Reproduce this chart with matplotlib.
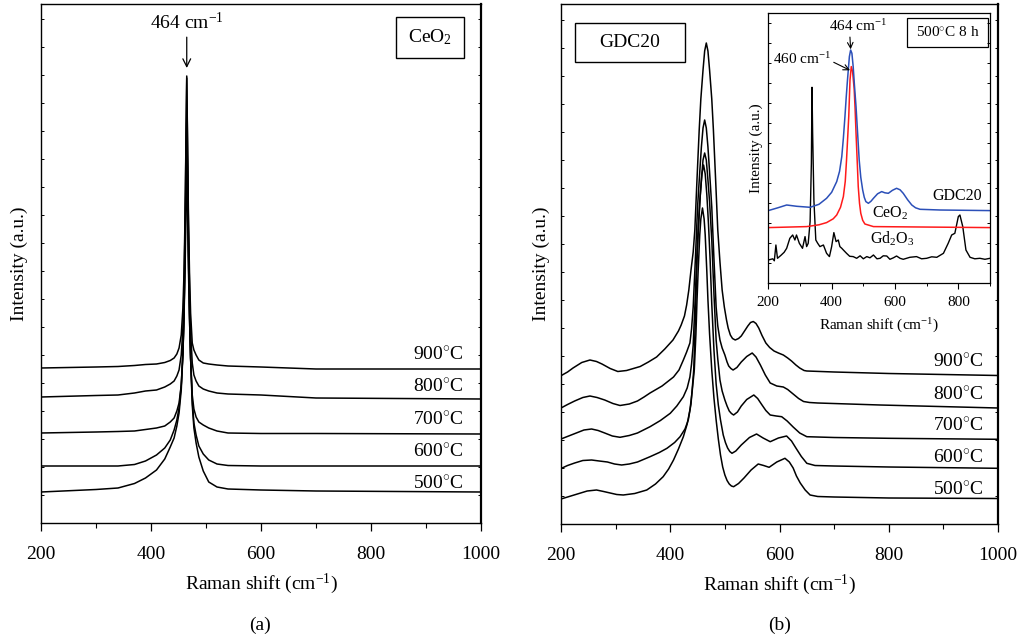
import matplotlib
matplotlib.use("Agg")
import matplotlib.pyplot as plt
from matplotlib.patches import Rectangle
from matplotlib.ticker import MultipleLocator

plt.rcParams['font.family'] = ['Liberation Serif', 'DejaVu Serif']
plt.rcParams['mathtext.fontset'] = 'custom'
plt.rcParams['mathtext.rm'] = 'Liberation Serif'
plt.rcParams['mathtext.it'] = 'Liberation Serif:italic'
plt.rcParams['mathtext.bf'] = 'Liberation Serif:bold'

# ---------------- data ----------------
temps = ["500", "600", "700", "800", "900"]

# Panel (a): CeO2 spectra (Raman shift cm^-1, intensity a.u.)
ceo2_x = [200, 300, 340, 370, 390, 410, 425, 435, 442, 447, 451, 455, 458, 460, 462, 463.5, 465, 466.5,
          468, 470, 472, 475, 478, 482, 487, 495, 505, 520, 540, 600, 700, 1000]
ceo2_900 = [155, 156, 156.5, 157.5, 158.5, 159, 160.5, 162.5, 165, 169, 175, 188, 215, 250, 310, 380, 447, 380,
            310, 250, 210, 180, 173, 168, 163, 160, 159, 158, 157, 156, 154, 154]
ceo2_800 = [126, 127.5, 128, 130, 132, 133, 136, 139, 142, 147, 153, 168, 195, 235, 300, 375, 445, 375,
            300, 235, 192, 160, 148, 142, 137, 134, 132, 130, 129, 128, 125, 124]
ceo2_700 = [90, 91, 91.5, 92, 93.5, 95, 97, 101, 105, 112, 120, 138, 170, 210, 270, 340, 405, 340,
            270, 205, 165, 128, 114, 106, 101, 98, 95, 92, 90, 89.5, 89.5, 89]
ceo2_600 = [57, 57, 57, 58.5, 62, 68, 75, 83, 93, 103, 115, 138, 170, 205, 255, 310, 358, 310,
            255, 205, 165, 123, 100, 88, 77, 69, 63, 59, 57.5, 57, 57, 57]
ceo2_500 = [31, 33.5, 35, 39.5, 45, 53, 64, 76, 85, 97, 110, 133, 168, 205, 283, 345, 403, 345,
            283, 215, 165, 118, 95, 80, 66, 52, 41, 36, 34, 33, 32, 31]

# Panel (b): GDC20 spectra
gdc_900_x = [200, 212, 222, 238, 253, 265, 275, 290, 304, 320, 345, 360, 375, 390, 405, 415, 420, 426, 430, 434,
             438, 442, 445, 449, 453, 456, 460, 463, 466, 469, 472, 476, 479, 483, 487, 491, 495, 499, 503, 506,
             510, 514, 519, 525, 530, 536, 542, 547, 552, 557, 562, 568, 575, 582, 590, 598, 607, 615, 622, 630,
             637, 645, 650, 700, 800, 1000]
gdc_900 = [148.3, 152, 156, 161.5, 164, 162.5, 160, 155.5, 152.5, 153.5, 157.5, 162, 167, 175, 184, 193, 199, 208,
           219, 234, 254, 272, 294, 345, 394, 425, 454, 473, 481, 473, 454, 425, 394, 345, 294, 262, 234, 217,
           204, 196, 189, 185.5, 184, 185.5, 188, 193, 198, 201.5, 202.5, 200.5, 196, 188.5, 181, 176.5, 173, 171,
           169, 166, 163, 159, 156, 153.5, 153, 152, 150.5, 148.5]
gdc_800_x = [200, 212, 225, 240, 253, 266, 280, 295, 308, 325, 340, 352, 363, 385, 406, 416, 424, 430, 436, 439,
             442, 446, 450, 454, 457, 460, 463, 466, 469, 472, 476, 480, 484, 487, 491, 495, 500, 504, 507, 511,
             515, 522, 530, 540, 550, 557, 565, 574, 583, 595, 607, 615, 625, 635, 644, 655, 670, 784, 1000]
gdc_800 = [116, 119.5, 123, 126.5, 128, 126.5, 124, 120.5, 118.5, 120, 123, 127, 131, 138, 147, 154, 164, 172, 181,
           195, 217, 265, 317, 352, 377, 396, 404, 396, 377, 352, 317, 265, 217, 198, 184, 176, 169, 162, 158,
           155.5, 154, 156.5, 162, 167.5, 171, 167, 159, 149, 141, 138, 137, 134.5, 130, 125.5, 122.5, 121.5, 121,
           119, 116]
gdc_700_x = [200, 214, 228, 242, 256, 268, 280, 294, 308, 325, 340, 363, 382, 400, 412, 424, 431, 436, 439, 442,
             446, 450, 454, 457, 460, 463, 466, 469, 472, 476, 480, 484, 487, 491, 495, 500, 504, 508, 512, 516,
             523, 530, 540, 553, 560, 568, 575, 583, 594, 604, 614, 625, 637, 650, 700, 800, 1000]
gdc_700 = [85, 88, 91, 94, 95, 93.5, 91, 88, 86.7, 88.5, 91, 97.3, 103.5, 110.7, 118, 127.3, 136, 147, 160, 179,
           230, 284, 322, 344, 364, 371, 364, 344, 322, 284, 230, 184, 165, 144, 133, 124, 118, 113, 110.5, 109,
           112, 118, 124.5, 129, 125.5, 119, 113.5, 109, 108, 107.3, 103, 97, 91, 87.3, 86.5, 85.7, 84.7]
gdc_600_x = [200, 212, 225, 240, 256, 270, 285, 298, 311, 325, 340, 363, 380, 394, 408, 418, 427, 433, 438, 443,
             446, 449, 452, 455, 458, 461, 464, 467, 470, 473, 476, 480, 484, 488, 492, 497, 501, 505, 509, 513,
             520, 530, 545, 558, 570, 583, 598, 613, 622, 630, 640, 650, 665, 700, 800, 1000]
gdc_600 = [55.5, 58.5, 61, 63.5, 64, 63, 62, 60, 59, 60, 62, 67.3, 71.5, 75.7, 81.5, 87.3, 95, 104, 120, 154,
           205, 264, 300, 329, 350, 359, 350, 329, 300, 264, 220, 174, 140, 119, 104, 89, 81.5, 76, 72.5, 70.7,
           73, 79, 86.5, 90, 86, 82.3, 86, 88, 83, 76, 67.5, 60.7, 58.5, 58, 57, 55.7]
gdc_500_x = [200, 215, 230, 248, 265, 278, 290, 302, 314, 335, 357, 373, 387, 397, 406, 415, 424, 431, 436, 440,
             444, 447, 449, 451, 454, 456, 459, 462, 464, 467, 469, 472, 476, 480, 484, 488, 492, 496, 500, 504,
             508, 512, 516, 525, 535, 548, 561, 571, 581, 595, 610, 618, 625, 631, 638, 647, 656, 670, 700, 800, 1000]
gdc_500 = [25, 27.5, 30, 33, 34, 32.5, 31, 29.5, 29, 30.5, 34, 40, 47.3, 55, 64, 75, 87.3, 100, 114, 132,
           154, 190, 224, 252, 289, 305, 316, 305, 289, 252, 224, 190, 154, 126, 104, 85, 69, 57, 49, 43.5,
           40, 38, 37.3, 40.5, 46, 54, 60, 58.5, 56.7, 62, 65.7, 62, 56, 48, 41, 34, 29, 27.5, 27, 26, 25.5]

# Inset: 500 C 8 h comparison
ins_gdc_x = [200, 230, 258, 290, 332, 360, 384, 400, 416, 425, 432, 437, 442, 446, 450, 456, 460, 464, 468, 472,
             477, 482, 487, 492, 498, 503, 508, 516, 524, 532, 545, 558, 568, 579, 592, 605, 616, 626, 640, 653,
             665, 679, 742, 900]
ins_gdc = [72.7, 75.5, 78.3, 77, 76, 79, 85, 91, 101.7, 112, 126.7, 145, 166.7, 186, 203.3, 226.7, 233.3, 230,
           216.7, 198, 176.7, 150, 123.3, 106, 93.3, 86, 81.7, 80, 82, 85, 89.5, 91.7, 90.5, 90, 93, 95, 93.5, 90,
           83.5, 78.3, 75.5, 74, 73.3, 72.7]
ins_ceo2_x = [200, 321, 360, 384, 405, 416, 428, 437, 443, 447, 451, 454, 458, 462, 466, 471, 474, 477, 481, 484,
              488, 492, 498, 505, 532, 900]
ins_ceo2 = [55.7, 56.7, 58.5, 60.7, 64.5, 68.3, 76, 86.7, 102, 123.3, 148, 166.7, 203.3, 216.7, 212, 195, 175,
            150, 120, 96.7, 80, 70, 63, 59.3, 56.7, 55.7]
ins_gd2o3_x = [200, 214, 219, 224, 229, 240, 250, 258, 268, 277, 284, 289, 298, 308, 316, 321, 326, 332, 336, 338,
               340, 344, 350, 356, 363, 374, 384, 393, 400, 407, 414, 421, 426, 432, 437, 447, 457, 468, 479, 490,
               500, 511, 521, 532, 543, 553, 563, 574, 584, 595, 605, 616, 626, 647, 668, 684, 700, 716, 732, 753,
               768, 779, 789, 800, 805, 814, 824, 837, 852, 868, 884, 900]
ins_gd2o3 = [23.3, 24.5, 22.5, 38.3, 25, 28, 31, 35, 45, 48.3, 43.3, 48.3, 40, 35, 46.7, 36.7, 40, 61.7, 120, 196,
             150, 83, 43.3, 40, 36.7, 38.3, 30, 26.7, 36.7, 50.7, 41.7, 43.3, 36.7, 35, 33.3, 30, 27, 26.7, 25,
             27.5, 24.5, 26.7, 25.5, 28.3, 24.5, 25, 27.5, 27.3, 24, 25.5, 27.3, 25, 24, 26, 26.7, 24.5, 25, 26.5,
             26, 30, 40, 48.3, 50, 66.7, 68.3, 56.7, 33.3, 26, 24.5, 25, 24, 25]

# ---------------- figure ----------------
W, H = 1022, 642
fig = plt.figure(figsize=(W / 100, H / 100), dpi=100)

FS = 14
lw = 1.1


def style_main(ax, ymax):
    ax.set_xlim(200, 1000)
    ax.set_ylim(0, ymax)
    ax.xaxis.set_major_locator(MultipleLocator(200))
    ax.xaxis.set_minor_locator(MultipleLocator(100))
    ax.yaxis.set_major_locator(MultipleLocator(28))
    ax.tick_params(axis='x', which='major', direction='out', length=6, width=0.9, labelsize=FS, pad=10.5, top=False)
    ax.tick_params(axis='x', which='minor', direction='out', length=3.5, width=0.8, top=False)
    ax.tick_params(axis='y', which='major', direction='in', length=2.5, width=0.7, left=True, right=True,
                   labelleft=False)
    for s in ax.spines.values():
        s.set_linewidth(1.0)
    ax.spines['right'].set_linewidth(1.6)
    ax.set_xlabel(r"Raman shift (cm$^{-1}$)", fontsize=FS, labelpad=6)


# Panel (a)
axa = fig.add_axes([41 / W, 1 - 523 / H, 440 / W, 519 / H])
for ys in [ceo2_500, ceo2_600, ceo2_700, ceo2_800, ceo2_900]:
    axa.plot(ceo2_x, ys, color='black', lw=lw)
style_main(axa, 519)
axa.set_ylabel("Intensity (a.u.)", fontsize=FS, labelpad=9)
for t, yb in zip(temps, [34, 66, 98, 131, 163]):
    axa.text(968, yb, t + r"$^{\circ}$C", fontsize=FS, ha='right', va='baseline')
axa.add_patch(Rectangle((845.5, 465), 123.5, 41, fill=False, lw=1.0, ec='black'))
axa.text(907, 485.5, r"CeO$_2$", fontsize=FS, ha='center', va='center')
axa.annotate(r"464 cm$^{-1}$", xy=(465, 455), xytext=(465, 490), fontsize=FS,
             ha='center', va='bottom',
             arrowprops=dict(arrowstyle='->', color='black', lw=0.9, shrinkA=1, shrinkB=0,
                             mutation_scale=14))

# Panel (b)
axb = fig.add_axes([561 / W, 1 - 524 / H, 437 / W, 520 / H])
for xs, ys in [(gdc_500_x, gdc_500), (gdc_600_x, gdc_600), (gdc_700_x, gdc_700),
               (gdc_800_x, gdc_800), (gdc_900_x, gdc_900)]:
    axb.plot(xs, ys, color='black', lw=lw)
style_main(axb, 520)
axb.set_ylabel("Intensity (a.u.)", fontsize=FS, labelpad=8)
for t, yb in zip(temps, [29, 61.3, 93, 124, 157.3]):
    axb.text(973.5, yb, t + r"$^{\circ}$C", fontsize=FS, ha='right', va='baseline')
axb.add_patch(Rectangle((225.6, 462), 201.4, 39, fill=False, lw=1.0, ec='black'))
axb.text(326, 481.5, "GDC20", fontsize=FS, ha='center', va='center')

# Inset
IFS = 11
axi = fig.add_axes([768.3 / W, 1 - 283.3 / H, 221.7 / W, 270 / H])
axi.plot(ins_gd2o3_x, ins_gd2o3, color='black', lw=1.0)
axi.plot(ins_ceo2_x, ins_ceo2, color='#ff1a1a', lw=1.1)
axi.plot(ins_gdc_x, ins_gdc, color='#2b4fb8', lw=1.1)
axi.set_xlim(200, 900)
axi.set_ylim(0, 270)
axi.xaxis.set_major_locator(MultipleLocator(200))
axi.xaxis.set_minor_locator(MultipleLocator(100))
axi.yaxis.set_major_locator(MultipleLocator(20))
axi.tick_params(axis='x', which='major', direction='out', length=4, width=0.8, labelsize=IFS, pad=5.5)
axi.tick_params(axis='x', which='minor', direction='out', length=2.5, width=0.7)
axi.tick_params(axis='y', which='major', direction='in', length=2.5, width=0.7, left=True, right=True,
                labelleft=False)
for s in axi.spines.values():
    s.set_linewidth(0.9)
axi.set_xlabel(r"Raman shift (cm$^{-1}$)", fontsize=IFS, labelpad=5)
axi.set_ylabel("Intensity (a.u.)", fontsize=IFS, labelpad=4)
axi.add_patch(Rectangle((637, 236.6), 258, 28.4, fill=False, lw=0.9, ec='black'))
axi.text(766, 250.8, r"500$^{\circ}$C 8 h", fontsize=IFS, ha='center', va='center')
axi.annotate(r"464 cm$^{-1}$", xy=(460, 234), xytext=(483, 249), fontsize=IFS,
             ha='center', va='bottom',
             arrowprops=dict(arrowstyle='->', color='black', lw=0.8, shrinkA=0, shrinkB=0,
                             mutation_scale=10, relpos=(0.36, 0)))
axi.annotate(r"460 cm$^{-1}$", xy=(458, 213), xytext=(306, 216), fontsize=IFS,
             ha='center', va='bottom',
             arrowprops=dict(arrowstyle='->', color='black', lw=0.8, shrinkA=0, shrinkB=0,
                             mutation_scale=10, relpos=(1.0, 0.4)))
axi.text(796, 83, "GDC20", fontsize=IFS + 0.5, ha='center', va='baseline')
axi.text(584, 66, r"CeO$_2$", fontsize=IFS + 0.5, ha='center', va='baseline')
axi.text(591, 40, r"Gd$_2$O$_3$", fontsize=IFS + 0.5, ha='center', va='baseline')

fig.text(260 / W, 1 - 625 / H, "(a)", fontsize=FS, ha='center', va='center')
fig.text(780 / W, 1 - 625 / H, "(b)", fontsize=FS, ha='center', va='center')

fig.savefig("out.png", dpi=100)
